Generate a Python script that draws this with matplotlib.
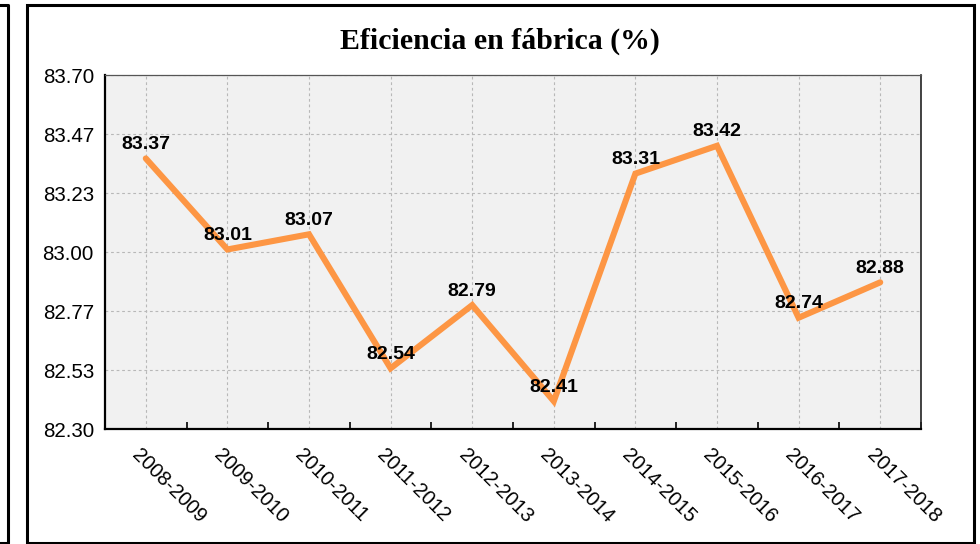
import matplotlib
matplotlib.use("Agg")
import matplotlib.pyplot as plt
from matplotlib.lines import Line2D
from matplotlib.patches import Rectangle
import matplotlib.transforms as mtransforms
import numpy as np

categories = ["2008-2009", "2009-2010", "2010-2011", "2011-2012", "2012-2013",
              "2013-2014", "2014-2015", "2015-2016", "2016-2017", "2017-2018"]
values = [83.37, 83.01, 83.07, 82.54, 82.79, 82.41, 83.31, 83.42, 82.74, 82.88]
y_min, y_max = 82.30, 83.70
n_yticks = 7
title = "Eficiencia en fábrica (%)"

W, H = 980, 544
fig = plt.figure(figsize=(W / 100, H / 100), dpi=100)
fig.patch.set_facecolor("white")

def px(x0, y0, x1, y1):
    return [x0 / W, 1 - y1 / H, (x1 - x0) / W, (y1 - y0) / H]

ax = fig.add_axes(px(105, 75, 921, 429))
ax.set_facecolor("#f1f1f1")

x = np.arange(len(categories))
ax.plot(x, values, color="#fd9644", lw=4.4, solid_capstyle="round",
        solid_joinstyle="miter", zorder=3)

for xi, v in zip(x, values):
    ax.annotate(f"{v:.2f}", (xi, v), xytext=(0, 4), textcoords="offset points",
                ha="center", va="bottom", fontsize=14, fontweight="bold",
                family="Liberation Sans", color="black", zorder=4)

ax.set_xlim(-0.5, len(categories) - 0.5)
ax.set_ylim(y_min, y_max)
yticks = np.linspace(y_min, y_max, n_yticks)
ax.set_yticks(yticks)
ax.set_yticklabels([f"{t:.2f}" for t in yticks])
ax.set_xticks(x)
ax.set_xticklabels(categories)
ax.set_xticks(np.arange(len(categories) + 1) - 0.5, minor=True)

ax.tick_params(axis="x", which="major", length=0, pad=12, labelsize=14.5)
ax.tick_params(axis="x", which="minor", direction="in", length=5, width=1.2, color="black")
ax.tick_params(axis="y", which="major", length=0, pad=8, labelsize=14.8)
for lab in ax.get_xticklabels():
    lab.set_rotation(-45)
    lab.set_ha("left")
    lab.set_va("top")
    lab.set_rotation_mode("anchor")
    lab.set_family("Liberation Sans")
    lab.set_transform(lab.get_transform() + mtransforms.ScaledTranslation(-4 / 100, 0, fig.dpi_scale_trans))
for lab in ax.get_yticklabels():
    lab.set_family("Liberation Sans")

ax.grid(True, which="major", color="#b8b8b8", linestyle=(0, (2.5, 2.5)), lw=0.8)
ax.set_axisbelow(True)

ax.spines["left"].set_linewidth(1.6)
ax.spines["bottom"].set_linewidth(1.6)
ax.spines["right"].set_linewidth(1.2)
ax.spines["right"].set_color("#222222")
ax.spines["top"].set_linewidth(0.9)
ax.spines["top"].set_linestyle((0, (1, 1)))
ax.spines["top"].set_color("#555555")

fig.text(500 / W, 1 - 41 / H, title, ha="center", va="center",
         fontsize=21.5, fontweight="bold", family="Liberation Serif")

# outer frames
fig.add_artist(Rectangle((26.5 / W, 1 - 542.5 / H), (974 - 26.5) / W, (542.5 - 5) / H,
                         transform=fig.transFigure, fill=False, lw=2.2, ec="black"))
fig.add_artist(Line2D([0, 7.5 / W, 7.5 / W, 0], [1 - 5 / H, 1 - 5 / H, 1 - 542.5 / H, 1 - 542.5 / H],
                      transform=fig.transFigure, lw=2.2, color="black"))

fig.savefig("out.png", dpi=100)
